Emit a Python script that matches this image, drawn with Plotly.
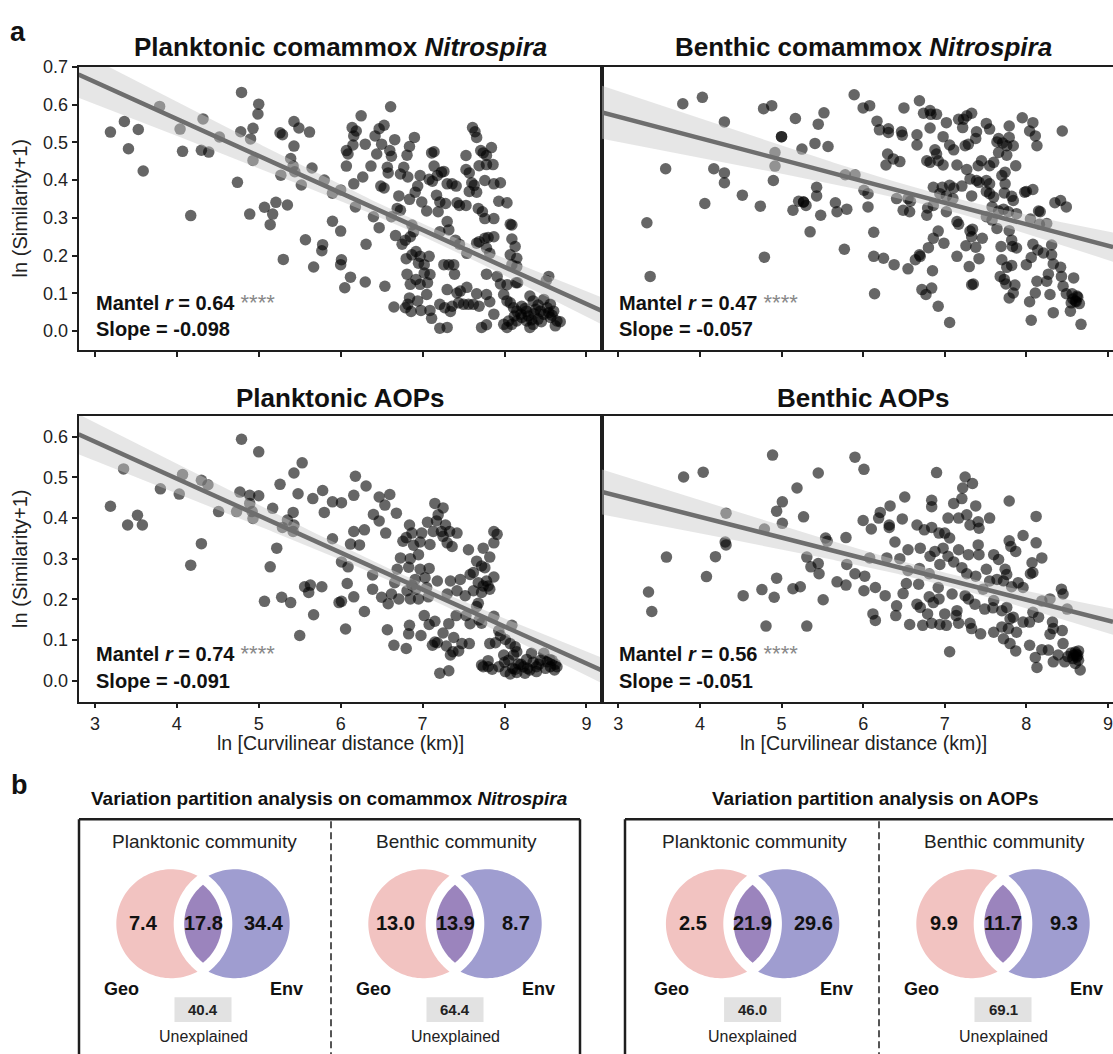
import numpy as np
import plotly.graph_objects as go

W, H = 1113, 1054

# ---------------- DATA ----------------
panel_titles = ["<b>Planktonic comammox <i>Nitrospira</i></b>", "<b>Benthic comammox <i>Nitrospira</i></b>",
                "<b>Planktonic AOPs</b>", "<b>Benthic AOPs</b>"]
mantel_r = [0.64, 0.47, 0.74, 0.56]
mantel_sig = ["****", "****", "****", "****"]
slopes = [-0.098, -0.057, -0.091, -0.051]
intercepts = [0.954, 0.739, 0.861, 0.607]
x_ticks = [3, 4, 5, 6, 7, 8, 9]
y_ticks_top = [0.0, 0.1, 0.2, 0.3, 0.4, 0.5, 0.6, 0.7]
y_ticks_bottom = [0.0, 0.1, 0.2, 0.3, 0.4, 0.5, 0.6]
x_label = "ln [Curvilinear distance (km)]"
y_label = "ln (Similarity+1)"

plank_comammox = [
(3.19,0.527),(3.36,0.555),(3.41,0.483),(3.53,0.534),(3.59,0.424),(3.79,0.595),(4.04,0.535),(4.07,0.476),(4.17,0.306),
(4.32,0.562),(4.30,0.479),(4.39,0.474),(4.52,0.514),(4.74,0.394),(4.79,0.632),(4.78,0.528),(4.89,0.310),(4.93,0.537),
(4.90,0.509),(4.93,0.452),(5.00,0.601),(4.99,0.575),(5.07,0.328),(5.17,0.310),(5.21,0.341),(5.14,0.282),(5.35,0.334),
(5.30,0.190),(5.26,0.525),(5.29,0.520),(5.43,0.555),(5.49,0.538),(5.62,0.527),(5.43,0.490),(5.39,0.457),(5.42,0.437),
(5.44,0.422),(5.27,0.413),(5.52,0.387),(5.65,0.432),(5.80,0.400),(5.90,0.365),(6.00,0.374),(5.57,0.242),(5.78,0.229),
(5.77,0.213),(5.67,0.170),
(6.61,0.594),(6.25,0.570),(6.14,0.539),(6.19,0.530),(6.16,0.517),(6.15,0.493),(6.07,0.478),(6.09,0.469),(6.07,0.437),
(6.16,0.390),(6.27,0.408),(6.30,0.495),(6.37,0.437),(6.42,0.517),(6.47,0.536),(6.53,0.545),(6.44,0.469),(6.50,0.495),
(6.49,0.384),(6.53,0.379),(6.60,0.478),(6.62,0.463),(6.57,0.434),(6.58,0.419),(6.66,0.507),(6.81,0.466),(6.84,0.489),
(6.90,0.513),(6.77,0.434),(6.73,0.416),(6.82,0.408),(6.97,0.412),(7.11,0.472),(7.14,0.475),(7.14,0.437),(7.08,0.402),
(7.12,0.397),(7.18,0.412),(7.23,0.421),(7.26,0.423),(7.30,0.390),(7.36,0.390),(7.41,0.384),(6.94,0.384),(6.91,0.368),
(6.84,0.349),(6.71,0.358),(6.69,0.325),(6.73,0.320),(6.99,0.342),(7.05,0.318),(7.17,0.360),(7.21,0.342),(7.19,0.316),
(7.28,0.338),(7.30,0.290),(7.32,0.268),(7.21,0.263),(7.42,0.340),(7.45,0.333),(7.53,0.333),(7.53,0.428),(7.57,0.419),
(7.61,0.539),(7.64,0.528),(7.66,0.513),(7.71,0.478),(7.74,0.472),(7.78,0.465),(7.84,0.486),(7.53,0.465),(7.69,0.438),
(7.78,0.441),(7.86,0.441),(7.60,0.393),(7.63,0.386),(7.57,0.370),(7.66,0.368),(7.76,0.399),(7.87,0.390),(7.95,0.393),
(7.68,0.325),(7.73,0.316),(7.76,0.298),(7.87,0.298),(7.93,0.344),(8.03,0.340),(8.07,0.283),(8.09,0.281),(8.09,0.244),
(8.13,0.224),(8.15,0.193),(8.15,0.171),(8.14,0.128),(7.76,0.246),(7.80,0.248),(7.66,0.233),(7.69,0.237),(7.78,0.220),
(7.87,0.250),(7.82,0.206),(7.54,0.206),(7.45,0.230),(7.40,0.241),(7.38,0.176),(7.26,0.176),(7.39,0.151),(7.78,0.151),
(7.91,0.145),(7.95,0.125),(8.03,0.123),(8.16,0.128),(8.54,0.145),(8.51,0.134),(7.30,0.110),(7.42,0.101),(7.46,0.106),
(7.54,0.116),(7.66,0.099),(7.44,0.075),(7.50,0.071),(7.56,0.071),(7.62,0.071),(7.69,0.066),(7.78,0.097),(7.82,0.078),
(7.87,0.045),(7.72,0.010),(7.78,0.017),(7.99,0.097),(8.03,0.080),(8.07,0.075),(8.11,0.062),(8.15,0.053),(8.21,0.066),
(8.27,0.053),(8.31,0.093),(8.35,0.080),(8.41,0.069),(8.48,0.084),(8.56,0.071),(8.60,0.053),(8.64,0.027),(8.62,0.014),
(8.56,0.036),(8.48,0.045),(8.41,0.032),(8.35,0.018),(8.31,0.010),(8.27,0.027),(8.21,0.036),(8.15,0.027),(8.09,0.018),
(8.03,0.010),(7.99,0.018),(8.05,0.027),(8.29,0.040),(8.36,0.046),(8.44,0.053),(8.54,0.049),(8.68,0.025),(6.87,0.202),
(6.92,0.211),(6.97,0.198),(6.95,0.180),(7.02,0.176),(7.08,0.198),(6.80,0.192),(7.02,0.154),(7.09,0.150),(7.06,0.128),
(6.92,0.137),(6.85,0.124),(6.97,0.124),(7.05,0.097),(6.84,0.088),(6.82,0.071),(6.94,0.080),(6.98,0.055),(6.86,0.052),
(6.65,0.064),(6.79,0.062),(7.09,0.055),(7.11,0.034),(7.21,0.008),(7.30,0.010),(7.21,0.071),(7.27,0.062),(7.34,0.052),
(7.36,0.066),(6.79,0.241),(6.75,0.230),(6.67,0.253),(6.85,0.250),(6.89,0.263),(6.87,0.281),(6.62,0.303),(6.47,0.274),
(6.40,0.303),(6.31,0.230),(6.00,0.265),(5.90,0.291),(6.01,0.189),(6.00,0.176),(6.12,0.143),(6.05,0.115),(6.30,0.130),
(6.54,0.119),(6.81,0.151),(6.18,0.329),(8.07,0.202),(8.09,0.176),(7.32,0.176),
(8.20,0.045),(8.25,0.060),(8.38,0.058),(8.45,0.025),(8.52,0.062),(8.12,0.040),(8.33,0.030),(8.58,0.042),
]

benth_comammox = [
(3.35,0.287),(3.39,0.145),(3.58,0.430),(3.79,0.602),(4.03,0.619),(4.06,0.338),(4.17,0.430),(4.30,0.554),(4.30,0.419),
(4.30,0.393),(4.52,0.360),(4.74,0.331),(4.78,0.589),(4.88,0.597),(4.79,0.196),(4.90,0.399),(4.92,0.473),(4.92,0.437),
(5.00,0.515),(5.00,0.515),(5.17,0.563),(5.25,0.482),(5.14,0.320),(5.21,0.344),(5.27,0.342),(5.27,0.342),(5.30,0.333),
(5.35,0.263),(5.41,0.497),(5.45,0.548),(5.52,0.578),(5.43,0.381),(5.43,0.358),(5.48,0.307),(5.57,0.489),(5.66,0.340),
(5.68,0.316),(5.80,0.323),(5.77,0.217),(5.89,0.626),(5.78,0.414),(5.90,0.414),
(6.00,0.591),(6.08,0.597),(6.17,0.556),(6.20,0.533),(6.31,0.536),(6.31,0.526),(6.30,0.469),(6.28,0.440),(6.37,0.456),
(6.45,0.449),(6.47,0.528),(6.48,0.519),(6.50,0.591),(6.66,0.520),(6.66,0.493),(6.69,0.610),(6.74,0.577),(6.82,0.584),
(6.83,0.574),(6.90,0.574),(6.82,0.538),(6.78,0.451),(6.82,0.447),(6.88,0.480),(6.90,0.469),(6.92,0.451),(6.98,0.440),
(6.98,0.515),(7.02,0.552),(7.06,0.493),(7.11,0.480),(7.17,0.561),(7.22,0.539),(7.23,0.561),(7.27,0.570),(7.33,0.577),
(7.25,0.491),(7.29,0.495),(7.39,0.528),(7.38,0.510),(7.15,0.440),(7.27,0.428),(7.41,0.438),(7.45,0.451),(7.51,0.550),
(7.55,0.535),(7.66,0.510),(7.64,0.501),(7.71,0.498),(7.76,0.491),(7.79,0.513),(7.84,0.491),(7.79,0.543),(7.66,0.473),
(7.76,0.466),(7.60,0.447),(7.55,0.438),(7.87,0.438),(7.74,0.421),(7.70,0.412),(7.39,0.399),(7.42,0.394),(7.51,0.399),
(7.55,0.390),(7.31,0.403),(7.33,0.358),(7.51,0.370),(7.55,0.364),(7.60,0.355),(7.74,0.390),(7.73,0.366),(7.82,0.357),
(7.84,0.346),(7.95,0.565),(8.04,0.530),(8.08,0.552),(8.11,0.517),(8.13,0.491),(8.44,0.530),(8.00,0.370),(8.08,0.375),
(6.86,0.381),(6.97,0.381),(7.06,0.386),(7.11,0.379),(7.21,0.384),(6.94,0.364),(7.02,0.358),(7.10,0.351),(6.86,0.333),
(6.79,0.326),(6.78,0.307),(7.02,0.316),(6.57,0.316),(6.49,0.320),(6.55,0.351),(6.58,0.344),(6.41,0.351),(6.01,0.373),
(6.06,0.364),(6.06,0.329),(6.13,0.262),(6.13,0.198),(6.25,0.193),(6.38,0.176),(6.55,0.165),(6.64,0.189),(6.69,0.202),
(6.70,0.198),(6.80,0.221),(6.85,0.160),(6.86,0.246),(6.92,0.265),(6.99,0.233),(6.72,0.110),(6.77,0.097),(6.84,0.114),
(6.92,0.066),(7.06,0.023),(6.14,0.099),(7.15,0.290),(7.17,0.283),(7.31,0.265),(7.34,0.270),(7.33,0.250),(7.46,0.246),
(7.26,0.226),(7.38,0.222),(7.15,0.198),(7.30,0.171),(7.42,0.192),(7.33,0.123),(7.35,0.125),(7.64,0.272),(7.79,0.266),
(7.69,0.224),(7.82,0.241),(7.83,0.224),(7.88,0.220),(7.70,0.189),(7.82,0.174),(7.76,0.169),(7.68,0.145),(7.73,0.137),
(7.75,0.125),(7.86,0.122),(7.84,0.101),(7.79,0.088),(8.08,0.230),(8.14,0.215),(8.21,0.207),(8.31,0.228),(8.00,0.176),
(8.06,0.195),(8.31,0.202),(8.33,0.178),(8.27,0.151),(8.25,0.132),(8.42,0.169),(8.43,0.145),(8.13,0.132),(8.11,0.101),
(8.04,0.078),(8.29,0.097),(8.33,0.049),(8.06,0.029),(8.45,0.119),(8.49,0.099),(8.56,0.099),(8.58,0.141),(8.62,0.093),
(8.60,0.080),(8.65,0.073),(8.54,0.053),(8.67,0.018),(8.17,0.316),(8.15,0.318),(8.35,0.340),(8.42,0.346),(8.49,0.329),
(8.05,0.297),(8.16,0.283),(8.25,0.285),(7.98,0.368),(7.66,0.318),(7.72,0.323),(7.78,0.316),(7.88,0.311),(7.58,0.329),
(7.51,0.303),(7.58,0.294),
(8.57,0.085),(8.61,0.078),(8.63,0.090),(8.55,0.075),
]

plank_aop = [
(3.19,0.429),(3.35,0.521),(3.40,0.383),(3.52,0.407),(3.58,0.383),(3.80,0.472),(4.03,0.459),(4.07,0.507),(4.17,0.284),
(4.30,0.337),(4.30,0.493),(4.38,0.482),(4.51,0.416),(4.73,0.416),(4.79,0.594),(4.77,0.464),(4.89,0.456),(4.89,0.436),
(4.93,0.399),(4.92,0.416),(5.00,0.563),(5.00,0.455),(5.07,0.195),(5.17,0.424),(5.22,0.326),(5.14,0.280),(5.26,0.483),
(5.29,0.377),(5.28,0.205),(5.39,0.192),(5.43,0.511),(5.53,0.536),(5.48,0.460),(5.42,0.414),(5.35,0.395),(5.43,0.383),
(5.42,0.367),(5.50,0.111),(5.56,0.231),(5.61,0.217),(5.63,0.235),(5.67,0.162),(5.77,0.231),(5.66,0.448),(5.78,0.468),
(5.80,0.414),(5.90,0.440),(6.01,0.438),(5.90,0.349),(6.01,0.292),(5.98,0.192),(6.01,0.195),(6.06,0.127),(6.09,0.280),
(6.08,0.239),(6.18,0.503),(6.16,0.456),(6.16,0.367),(6.16,0.206),(6.31,0.479),(6.29,0.371),(6.29,0.170),(6.23,0.334),
(6.47,0.452),(6.60,0.458),(6.54,0.432),(6.68,0.412),(6.40,0.409),(6.47,0.393),(6.55,0.363),(6.84,0.383),(6.76,0.343),
(6.80,0.352),(6.87,0.363),(6.99,0.363),(6.89,0.333),(6.95,0.310),(6.97,0.341),(7.09,0.335),(7.15,0.436),(7.25,0.425),
(7.19,0.408),(7.17,0.393),(7.06,0.390),(7.28,0.383),(7.33,0.367),(7.42,0.363),(7.25,0.355),(7.30,0.339),(7.36,0.330),
(7.13,0.367),(7.23,0.367),(7.87,0.367),(7.91,0.360),(7.87,0.339),(7.74,0.326),(7.56,0.322),(7.66,0.294),(7.72,0.282),
(7.76,0.278),(7.82,0.304),(7.87,0.255),(7.62,0.266),(7.68,0.241),(7.74,0.233),(7.80,0.233),(7.82,0.225),(7.78,0.245),
(7.72,0.217),(7.62,0.221),(7.68,0.190),(7.66,0.182),(7.58,0.261),(7.52,0.209),(7.42,0.221),(7.34,0.245),(7.46,0.249),
(7.30,0.213),(7.18,0.245),(7.08,0.276),(6.97,0.274),(6.85,0.300),(6.73,0.302),(6.83,0.279),(6.69,0.274),(6.91,0.249),
(6.87,0.235),(6.92,0.225),(7.03,0.253),(7.05,0.229),(7.07,0.206),(6.95,0.201),(6.85,0.201),(6.81,0.221),(6.71,0.201),
(6.62,0.213),(6.66,0.241),(6.50,0.205),(6.58,0.189),(6.39,0.225),(6.39,0.260),(6.12,0.336),(6.57,0.125),(6.65,0.087),
(6.80,0.079),(6.84,0.136),(6.83,0.115),(6.98,0.111),(7.02,0.160),(7.08,0.138),(7.15,0.146),(7.25,0.117),(7.32,0.140),
(7.38,0.106),(7.15,0.095),(7.12,0.087),(7.18,0.093),(7.29,0.085),(7.37,0.071),(7.44,0.073),(7.48,0.091),(7.57,0.091),
(7.34,0.063),(7.21,0.018),(7.32,0.024),(7.41,0.160),(7.53,0.160),(7.58,0.140),(7.69,0.149),(7.72,0.141),(7.87,0.158),
(7.93,0.123),(8.09,0.136),(7.82,0.091),(7.89,0.093),(7.95,0.111),(8.01,0.101),(8.07,0.091),(8.13,0.083),(7.80,0.034),
(7.74,0.034),(7.85,0.028),(7.99,0.063),(8.05,0.050),(8.11,0.063),(8.15,0.071),(8.17,0.041),(8.01,0.022),(8.07,0.016),
(8.23,0.034),(8.27,0.052),(8.33,0.067),(8.31,0.026),(8.39,0.034),(8.44,0.050),(8.48,0.067),(8.52,0.046),(8.56,0.034),
(8.61,0.026),(8.64,0.034),(8.58,0.050),(8.39,0.022),(8.25,0.018),(8.13,0.028),(7.93,0.034),(7.80,0.049),(7.72,0.038),
(8.20,0.040),(8.28,0.030),(8.35,0.045),(8.42,0.040),(8.50,0.030),(8.55,0.052),(8.62,0.040),(8.10,0.030),(8.00,0.045),
(8.15,0.020),
]

benth_aop = [
(3.37,0.218),(3.41,0.170),(3.59,0.304),(3.80,0.501),(4.04,0.513),(4.08,0.256),(4.19,0.305),(4.32,0.412),(4.31,0.341),
(4.32,0.334),(4.53,0.209),(4.76,0.224),(4.81,0.134),(4.79,0.373),(4.89,0.555),(4.91,0.205),(4.94,0.417),(5.01,0.440),
(5.01,0.387),(4.94,0.252),(5.14,0.226),(5.23,0.231),(5.31,0.134),(5.19,0.474),(5.27,0.403),(5.31,0.304),(5.36,0.280),
(5.45,0.288),(5.46,0.263),(5.51,0.199),(5.45,0.511),(5.54,0.351),(5.56,0.343),(5.68,0.243),(5.79,0.235),(5.80,0.286),
(5.79,0.352),(5.90,0.550),(6.01,0.520),(5.90,0.263),(6.02,0.257),(6.00,0.394),(6.10,0.373),(6.15,0.229),(6.12,0.164),
(6.15,0.148),
(6.90,0.512),(7.25,0.501),(7.34,0.485),(7.22,0.474),(7.21,0.448),(6.84,0.444),(6.84,0.428),(6.51,0.452),(6.33,0.430),
(6.21,0.414),(6.19,0.400),(6.32,0.383),(6.32,0.377),(6.48,0.398),(6.66,0.383),(6.75,0.371),(6.84,0.377),(6.93,0.363),
(7.00,0.363),(7.06,0.351),(7.11,0.436),(7.04,0.400),(7.17,0.400),(7.27,0.408),(7.31,0.383),(7.41,0.391),(7.42,0.375),
(7.38,0.430),(7.55,0.400),(7.79,0.442),(8.12,0.404),(6.39,0.341),(6.55,0.322),(6.70,0.326),(6.82,0.306),(6.88,0.318),
(6.98,0.326),(7.04,0.306),(7.17,0.322),(7.29,0.310),(7.41,0.334),(7.42,0.310),(7.60,0.310),(7.66,0.298),(7.79,0.344),
(7.81,0.330),(7.87,0.318),(7.96,0.357),(8.12,0.339),(8.19,0.302),(8.07,0.290),(8.08,0.266),(6.08,0.302),(6.29,0.302),
(6.45,0.300),(6.55,0.271),(6.69,0.276),(6.81,0.263),(6.94,0.286),(7.11,0.292),(7.21,0.278),(7.27,0.263),(7.38,0.257),
(7.51,0.274),(7.55,0.245),(7.64,0.249),(7.74,0.274),(7.76,0.261),(7.72,0.245),(7.82,0.231),(7.90,0.241),(7.96,0.229),
(8.05,0.263),(6.27,0.209),(6.01,0.221),(6.41,0.184),(6.40,0.160),(6.49,0.214),(6.53,0.239),(6.68,0.237),(6.66,0.188),
(6.70,0.180),(6.81,0.206),(6.86,0.192),(6.92,0.229),(6.93,0.201),(6.79,0.164),(6.84,0.141),(6.57,0.138),(6.73,0.136),
(6.94,0.138),(7.00,0.164),(7.02,0.136),(7.15,0.172),(7.14,0.160),(7.09,0.213),(7.25,0.209),(7.29,0.201),(7.37,0.188),
(7.47,0.225),(7.49,0.176),(7.59,0.179),(7.60,0.197),(7.70,0.172),(7.76,0.180),(7.80,0.152),(7.84,0.156),(7.70,0.132),
(7.78,0.128),(7.88,0.119),(7.96,0.144),(8.04,0.144),(8.08,0.168),(8.15,0.156),(8.19,0.196),(8.29,0.201),(8.32,0.144),
(8.33,0.128),(8.29,0.114),(8.43,0.225),(8.45,0.213),(8.44,0.123),(8.50,0.176),(7.17,0.141),(7.31,0.141),(7.33,0.128),
(7.44,0.115),(7.60,0.119),(7.72,0.103),(7.80,0.091),(7.87,0.073),(7.06,0.071),(8.04,0.087),(8.11,0.057),(8.13,0.032),
(8.19,0.076),(8.27,0.075),(8.33,0.046),(8.39,0.063),(8.45,0.091),(8.47,0.046),(8.51,0.059),(8.57,0.054),(8.61,0.065),
(8.64,0.050),(8.60,0.042),(8.66,0.026),(8.64,0.073),
(8.58,0.062),(8.62,0.058),(8.55,0.068),(8.60,0.070),(8.63,0.062),
]

# Variation partitioning (percent)
vp_titles = ["<b>Variation partition analysis on comammox <i>Nitrospira</i></b>",
             "<b>Variation partition analysis on AOPs</b>"]
vp_communities = ["Planktonic community", "Benthic community", "Planktonic community", "Benthic community"]
vp_geo = [7.4, 13.0, 2.5, 9.9]
vp_shared = [17.8, 13.9, 21.9, 11.7]
vp_env = [34.4, 8.7, 29.6, 9.3]
vp_unexplained = [40.4, 64.4, 46.0, 69.1]
vp_labels = ["Geo", "Env", "Unexplained"]

# ---------------- STYLE / LAYOUT ----------------
FONT = "Liberation Sans, Arial, Helvetica, sans-serif"
AX = "#1e1e1e"


def fx(p):
    return p / W


def fy(p):
    return 1 - p / H


panels = [
    dict(pts=plank_comammox, box=(78.5, 602, 57.3, 343.3), xr=(2.8, 9.19), yr=(-0.05, 0.70), yt=y_ticks_top, left=True, bottom=False),
    dict(pts=benth_comammox, box=(602, 1113, 57.3, 343.3), xr=(2.8, 9.062), yr=(-0.05, 0.70), yt=y_ticks_top, left=False, bottom=False),
    dict(pts=plank_aop, box=(78.5, 602, 410, 698.3), xr=(2.8, 9.19), yr=(-0.052, 0.651), yt=y_ticks_bottom, left=True, bottom=True),
    dict(pts=benth_aop, box=(602, 1113, 410, 698.3), xr=(2.8, 9.062), yr=(-0.052, 0.651), yt=y_ticks_bottom, left=False, bottom=True),
]

fig = go.Figure()
annotations = []
shapes = []


def ann(text, x, y, size, color="#111", xanchor="center", yanchor="middle", angle=0):
    annotations.append(dict(text=text, x=fx(x), y=fy(y), xref="paper", yref="paper", showarrow=False,
                            xanchor=xanchor, yanchor=yanchor, textangle=angle,
                            font=dict(family=FONT, size=size, color=color)))


for i, p in enumerate(panels):
    k = "" if i == 0 else str(i + 1)
    xa, ya = "x" + k, "y" + k
    pts = np.array(p["pts"])
    xs, ys = pts[:, 0], pts[:, 1]
    fig.add_trace(go.Scatter(x=xs, y=ys, mode="markers", xaxis=xa, yaxis=ya,
                             marker=dict(size=11.5, color="black", opacity=0.6, line=dict(width=0)),
                             hoverinfo="skip"))
    b, a = slopes[i], intercepts[i]
    grid = np.linspace(p["xr"][0], p["xr"][1], 200)
    fit = a + b * grid
    n = len(xs)
    res = ys - (a + b * xs)
    s = np.sqrt(np.sum(res ** 2) / (n - 2))
    xm = xs.mean()
    sxx = np.sum((xs - xm) ** 2)
    half = 1.97 * s * np.sqrt(1.0 / n + (grid - xm) ** 2 / sxx)
    fig.add_trace(go.Scatter(x=np.concatenate([grid, grid[::-1]]),
                             y=np.concatenate([fit + half, (fit - half)[::-1]]),
                             fill="toself", fillcolor="rgba(200,200,200,0.45)", line=dict(width=0),
                             mode="lines", xaxis=xa, yaxis=ya, hoverinfo="skip"))
    fig.add_trace(go.Scatter(x=grid, y=fit, mode="lines", line=dict(color="#6e6e6e", width=4.5),
                             xaxis=xa, yaxis=ya, hoverinfo="skip"))

    l, r, t, bt = p["box"]
    fig.layout["xaxis" + k] = dict(domain=[fx(l), fx(r)], range=list(p["xr"]), anchor=ya,
                                   showgrid=False, zeroline=False, showline=True, linecolor=AX, linewidth=1.6,
                                   mirror=True, ticks="outside", ticklen=5, tickwidth=1.5, tickcolor=AX,
                                   tickvals=x_ticks, showticklabels=p["bottom"],
                                   tickfont=dict(family=FONT, size=18, color="#222"))
    fig.layout["yaxis" + k] = dict(domain=[fy(bt), fy(t)], range=list(p["yr"]), anchor=xa,
                                   showgrid=False, zeroline=False, showline=True, linecolor=AX, linewidth=1.6,
                                   mirror=p["left"], ticks="outside" if p["left"] else "", ticklen=5, tickwidth=1.5,
                                   tickcolor=AX, tickvals=p["yt"], tickformat=".1f", showticklabels=p["left"],
                                   tickfont=dict(family=FONT, size=18, color="#222"))
    ann(panel_titles[i], (l + (r if i % 2 == 0 else 1124)) / 2, t - (20 if i < 2 else 18.5), 26)
    tx = l + 15.5 if i % 2 == 0 else l + 14.7
    ann("<b>Mantel <i>r</i> = %.2f</b><span style='font-size:22px;color:#888'> %s</span>" % (mantel_r[i], mantel_sig[i]),
        tx, bt - 48.5, 20, xanchor="left")
    ann("<b>Slope = %.3f</b>" % slopes[i], tx, bt - 21, 20, xanchor="left")
    if p["left"]:
        ann(y_label, 20, (t + bt) / 2, 20, angle=-90, color="#222")
    if p["bottom"]:
        ann(x_label, 340.6 if i == 2 else 863.3, 740, 19.5, color="#222")

ann("<b>a</b>", 18, 22, 27)
ann("<b>b</b>", 19, 782, 27)

# ---------------- Panel b: Venn diagrams ----------------
PINK, BLUE, PURPLE = "#f2c3c1", "#9f9dd0", "#9b84bd"
R, HALF_D, G_OUT, G_IN = 55.0, 31.7, 6.0, 4.5
CY = 922.5
venn_cx = [203.0, 455.0, 752.6, 1003.0]


def path_of(xs, ys):
    return "M " + " L ".join("%.5f,%.5f" % (fx(x), fy(y)) for x, y in zip(xs, ys)) + " Z"


def crescent(cx, side):
    A = cx - HALF_D
    B = cx + HALF_D
    d = B - A
    Rc = R + G_OUT
    a = (d * d + R * R - Rc * Rc) / (2 * d)
    h = np.sqrt(R * R - a * a)
    phi = np.arctan2(h, a)
    th1 = np.linspace(-phi, -(2 * np.pi - phi), 90)
    xs1, ys1 = A + R * np.cos(th1), CY + R * np.sin(th1)
    psi = np.arctan2(h, a - d)
    th2 = np.linspace(psi, 2 * np.pi - psi, 60)
    xs2, ys2 = B + Rc * np.cos(th2), CY + Rc * np.sin(th2)
    xs = np.concatenate([xs1, xs2])
    ys = np.concatenate([ys1, ys2])
    if side > 0:
        xs = 2 * cx - xs
    return path_of(xs, ys)


def lens(cx):
    A = cx - HALF_D
    B = cx + HALF_D
    r = R - G_IN
    a = (B - A) / 2
    h = np.sqrt(r * r - a * a)
    phi = np.arctan2(h, a)
    th1 = np.linspace(-phi, phi, 60)
    th2 = np.linspace(np.pi - phi, np.pi + phi, 60)
    xs = np.concatenate([A + r * np.cos(th1), B + r * np.cos(th2)])
    ys = np.concatenate([CY + r * np.sin(th1), CY + r * np.sin(th2)])
    return path_of(xs, ys)


for j, cx in enumerate(venn_cx):
    shapes.append(dict(type="path", xref="paper", yref="paper", path=crescent(cx, -1), fillcolor=PINK, line=dict(width=0)))
    shapes.append(dict(type="path", xref="paper", yref="paper", path=crescent(cx, 1), fillcolor=BLUE, line=dict(width=0)))
    shapes.append(dict(type="path", xref="paper", yref="paper", path=lens(cx), fillcolor=PURPLE, line=dict(width=0)))
    shapes.append(dict(type="rect", xref="paper", yref="paper", x0=fx(cx - 28.5), x1=fx(cx + 28.5),
                       y0=fy(1021.7), y1=fy(996.7), fillcolor="#e2e2e2", line=dict(width=0)))
    ann(vp_communities[j], cx + 1.5, 839, 19, color="#222")
    ann("<b>%.1f</b>" % vp_geo[j], cx - 59.5, 922, 20)
    ann("<b>%.1f</b>" % vp_shared[j], cx, 922, 20)
    ann("<b>%.1f</b>" % vp_env[j], cx + 61, 922, 20)
    ann("<b>%s</b>" % vp_labels[0], cx - 81.5, 988, 18)
    ann("<b>%s</b>" % vp_labels[1], cx + 83.5, 988, 18)
    ann("<b>%.1f</b>" % vp_unexplained[j], cx, 1009.5, 15, color="#222")
    ann(vp_labels[2], cx, 1036, 16, color="#222")

LC = "#1e1e1e"
for (x0, y0, x1, y1) in [(79, 817, 79, 1070), (79, 817, 580, 817), (580, 817, 580, 1070),
                         (625, 817, 625, 1070), (625, 817, 1120, 817)]:
    shapes.append(dict(type="line", xref="paper", yref="paper", x0=fx(x0), y0=fy(y0), x1=fx(x1), y1=fy(y1),
                       line=dict(color=LC, width=2.5)))
for xd in (331, 879):
    shapes.append(dict(type="line", xref="paper", yref="paper", x0=fx(xd), y0=fy(819), x1=fx(xd), y1=fy(1070),
                       line=dict(color="#555", width=2, dash="7px,4px")))
ann(vp_titles[0], 329.5, 796, 19)
ann(vp_titles[1], 875, 796, 19)

fig.update_layout(width=W, height=H, margin=dict(l=0, r=0, t=0, b=0), showlegend=False,
                  plot_bgcolor="white", paper_bgcolor="white",
                  annotations=annotations, shapes=shapes, font=dict(family=FONT))

fig.write_html("out.html", config={"displayModeBar": False},
               post_script="document.body.style.margin='0';")
